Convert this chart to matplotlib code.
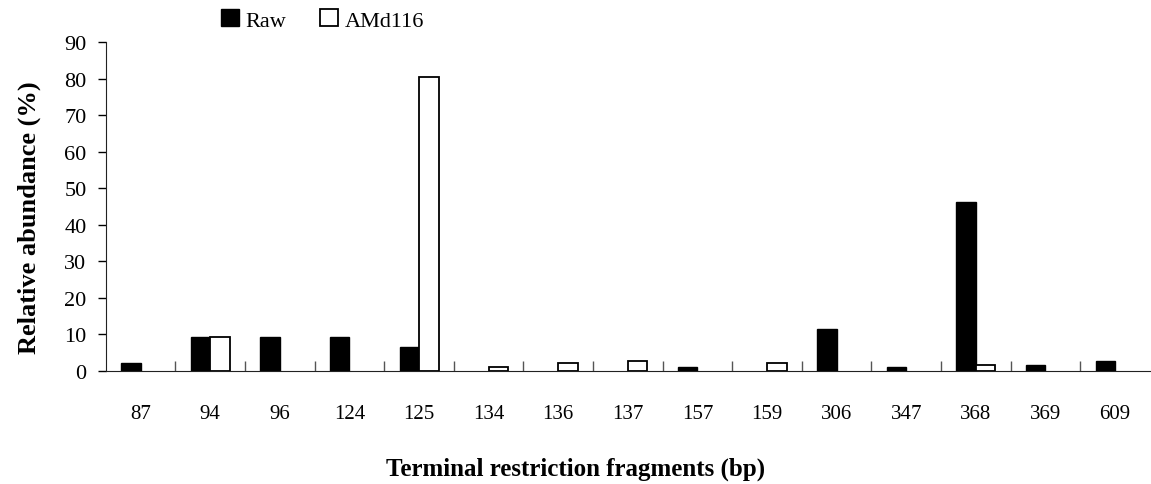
import matplotlib.pyplot as plt
import numpy as np

categories = ['87', '94', '96', '124', '125', '134', '136', '137', '157', '159',
              '306', '347', '368', '369', '609']
raw = [2.2, 9.2, 9.2, 9.2, 6.5, 0, 0, 0, 1.1, 0, 11.5, 1.1, 46.3, 1.7, 2.7]
amd116 = [0, 9.2, 0, 0, 80.6, 1.1, 2.3, 2.7, 0, 2.2, 0, 0, 1.7, 0, 0]

plt.rcParams['font.family'] = ['Liberation Serif', 'DejaVu Serif']

fig = plt.figure(figsize=(11.51, 4.85), dpi=100)
ax = fig.add_axes([0.092, 0.233, 0.907, 0.678])

x = np.arange(len(categories))
w = 0.28
# zero values are not drawn at all
raw_h = np.where(np.array(raw) > 0, raw, np.nan)
amd_h = np.where(np.array(amd116) > 0, amd116, np.nan)
ax.bar(x - w / 2, raw_h, w, color='black', edgecolor='black', linewidth=1, label='Raw')
ax.bar(x + w / 2, amd_h, w, color='white', edgecolor='black', linewidth=1.3, label='AMd116')

ax.set_xlim(-0.5, len(categories) - 0.5)
ax.set_ylim(0, 90)
ax.set_yticks(range(0, 91, 10))
ax.tick_params(axis='y', labelsize=16, direction='out', length=6, width=1, pad=8)

# category labels under the centres, ticks on the boundaries
ax.set_xticks(x)
ax.set_xticklabels(categories, fontsize=15)
ax.tick_params(axis='x', which='major', length=0, pad=24)
ax.set_xticks(np.arange(0.5, len(categories) - 0.5, 1), minor=True)
ax.tick_params(axis='x', which='minor', direction='in', length=7, width=1, color='#555555')

for s in ['top', 'right']:
    ax.spines[s].set_visible(False)
ax.spines['left'].set_color('#222222')
ax.spines['bottom'].set_color('#222222')

ax.set_ylabel('Relative abundance (%)', fontsize=19, fontweight='bold', labelpad=22)
ax.yaxis.set_label_coords(-0.062, 0.47)
fig.text(0.5, 0.02, 'Terminal restriction fragments (bp)', ha='center', fontsize=18,
         fontweight='bold')

fig.legend(loc='upper left', bbox_to_anchor=(0.175, 1.02), ncol=2, frameon=False,
           fontsize=16, handlelength=0.8, handleheight=0.8, handletextpad=0.3,
           columnspacing=1.5)

fig.savefig('out.png', dpi=100)
